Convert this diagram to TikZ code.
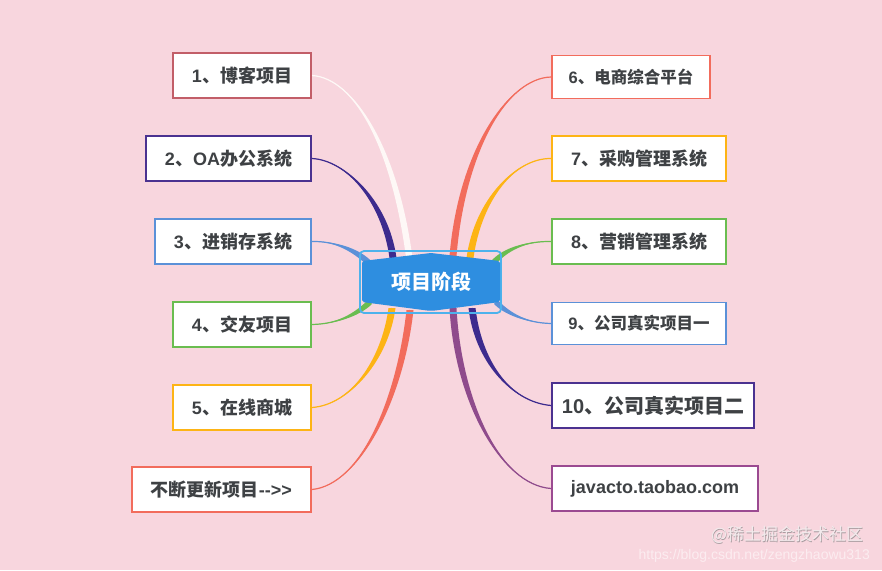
\documentclass[tikz,border=0pt]{standalone}
\usepackage{fontspec}
\setmainfont{Noto Sans CJK SC}
\newfontfamily\lat{Liberation Sans}
\usetikzlibrary{calc}
\pgfdeclarelayer{bgl}
\pgfdeclarelayer{conn}
\pgfsetlayers{bgl,conn,main}
\definecolor{bg}{HTML}{F8D6DE}
\definecolor{txt}{HTML}{3E4144}
\definecolor{cwhite}{HTML}{FEF8F6}
\definecolor{cpurple}{HTML}{3D2B8E}
\definecolor{bpurple}{HTML}{4B3290}
\definecolor{cblue}{HTML}{5B91D8}
\definecolor{cgreen}{HTML}{6ABD50}
\definecolor{corange}{HTML}{FDB415}
\definecolor{cred}{HTML}{F26C5C}
\definecolor{bdull}{HTML}{C25E68}
\definecolor{cmag}{HTML}{8F4B8C}
\definecolor{bmag}{HTML}{9B4A91}
\definecolor{hexblue}{HTML}{2E8EE0}
\definecolor{rimblue}{HTML}{4DB2EC}
\definecolor{wmshadow}{HTML}{A89CA0}
\definecolor{wmface}{HTML}{F2EAEC}
\newcommand\taperline[7]{%
  \fill[#1] (#2) .. controls (#3) and ($(#4)+(#6,#7)$) .. ($(#5)+(#6,#7)$) -- ($(#5)-(#6,#7)$) .. controls ($(#4)-(#6,#7)$) and (#3) .. (#2) -- cycle;
  \draw[#1, line width=1.2pt] (#2) .. controls (#3) and (#4) .. (#5);
}
\begin{document}
\begin{tikzpicture}[x=1pt,y=-1pt,
  box/.style={draw, line width=1.8pt, fill=white, text=txt,
    font=\bfseries\fontsize{18}{20}\selectfont, inner sep=0pt, minimum height=45},
  ]
\begin{pgfonlayer}{bgl}
\fill[bg] (0,0) rectangle (882,570);
\end{pgfonlayer}
\useasboundingbox (0,0) rectangle (882,570);

% center ends
\coordinate (e1) at (409,256);
\coordinate (e2) at (393,258);
\coordinate (e3) at (368,262);
\coordinate (e4) at (370,302);
\coordinate (e5) at (392,308);
\coordinate (e6) at (410,310);
\coordinate (f6) at (453,256);
\coordinate (f7) at (470,258);
\coordinate (f8) at (494,262);
\coordinate (f9) at (496,302);
\coordinate (f10) at (472,308);
\coordinate (f11) at (453,308);

% nodes
\node[box, draw=bdull, minimum width=138] (b1) at (242,75.5) {{\lat 1}、博客项目};
\node[box, draw=bpurple, minimum width=165] (b2) at (228.5,158.5) {{\lat 2}、{\lat OA}办公系统};
\node[box, draw=cblue, minimum width=156] (b3) at (233,241.5) {{\lat 3}、进销存系统};
\node[box, draw=cgreen, minimum width=138] (b4) at (242,324.5) {{\lat 4}、交友项目};
\node[box, draw=corange, minimum width=138] (b5) at (242,407.5) {{\lat 5}、在线商城};
\node[box, draw=cred, minimum width=179] (b6) at (221.5,489.5) {不断更新项目{\lat -\kern0pt-\kern0pt>\kern0pt>}};

\node[box, draw=cred, minimum width=158, minimum height=43, font=\bfseries\fontsize{16.5}{18}\selectfont] (r6) at (631,77) {{\lat 6}、电商综合平台};
\node[box, draw=corange, minimum width=174] (r7) at (639,158.5) {{\lat 7}、采购管理系统};
\node[box, draw=cgreen, minimum width=174] (r8) at (639,241.5) {{\lat 8}、营销管理系统};
\node[box, draw=cblue, minimum width=174, minimum height=42, font=\bfseries\fontsize{16.5}{18}\selectfont] (r9) at (639,323.5) {{\lat 9}、公司真实项目一};
\node[box, draw=bpurple, minimum width=202, font=\bfseries\fontsize{20}{22}\selectfont] (r10) at (653,405.5) {{\lat 10}、公司真实项目二};
\node[box, draw=bmag, minimum width=206] (r11) at (655,488.5) {\lat javacto.taobao.com};

% connectors
\begin{pgfonlayer}{conn}
\taperline{cwhite}{b1.east}{355,78}{395,150}{e1}{3.2}{0}
\taperline{cpurple}{b2.east}{345,160}{385,200}{e2}{3.5}{0}
\taperline{cblue}{b3.east}{335,241}{355,250}{e3}{-2}{2.2}
\taperline{cgreen}{b4.east}{340,324}{360,312}{e4}{2}{2}
\taperline{corange}{b5.east}{350,405}{385,360}{e5}{3.5}{0}
\taperline{cred}{b6.east}{360,485}{400,400}{e6}{3.5}{0}
\taperline{cred}{r6.west}{508,78}{462,150}{f6}{3.5}{0}
\taperline{corange}{r7.west}{515,158}{478,200}{f7}{3.5}{0}
\taperline{cgreen}{r8.west}{525,241}{505,250}{f8}{2}{1.8}
\taperline{cblue}{r9.west}{525,323}{505,312}{f9}{2}{-1.8}
\taperline{cpurple}{r10.west}{510,402}{478,360}{f10}{3.5}{0}
\taperline{cmag}{r11.west}{500,485}{458,400}{f11}{3.5}{0}
\end{pgfonlayer}

% center topic
\node[draw=rimblue, line width=1.8pt, rounded corners=4pt, minimum width=141, minimum height=62, inner sep=0pt] (c) at (430.5,282) {};
\fill[hexblue, rounded corners=2pt] (362,261) -- (431,253) -- (500,261) -- (500,302) -- (431,311) -- (362,302) -- cycle;
\node[text=white, font=\bfseries\fontsize{20}{22}\selectfont, inner sep=0pt] (ct) at (431,282) {项目阶段};

% watermark
\node[anchor=east, font=\lat\fontsize{14}{16}\selectfont, text=white, opacity=0.55, inner sep=0pt] (wm2) at (870,555.5) {https://blog.csdn.net/zengzhaowu313};
\node[anchor=east, font=\fontsize{17}{20}\selectfont, text=wmshadow, inner sep=0pt] (wm1s) at (864,535.5) {@稀土掘金技术社区};
\node[anchor=east, font=\fontsize{17}{20}\selectfont, text=wmface, inner sep=0pt] (wm1) at (863.3,534.8) {@稀土掘金技术社区};
\end{tikzpicture}
\end{document}
